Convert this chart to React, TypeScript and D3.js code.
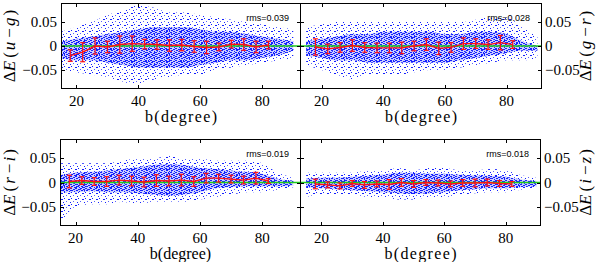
import React from "react";
import * as d3 from "d3";

// envelope grid (b in degrees) for the blue point clouds
const bGrid = [15, 20, 25, 30, 35, 40, 45, 50, 55, 60, 65, 70, 75, 80, 85, 90];
// binned means with error bars
const binB = [18, 22, 26, 30, 34, 38, 42, 46, 50, 54, 58, 62, 66, 70, 74, 78, 82];

// u-g
const ugOuterHi = [0.03, 0.04, 0.05, 0.065, 0.075, 0.085, 0.08, 0.07, 0.07, 0.065, 0.06, 0.055, 0.05, 0.045, 0.04, 0.035];
const ugOuterLo = [-0.05, -0.055, -0.06, -0.065, -0.075, -0.08, -0.07, -0.065, -0.06, -0.06, -0.05, -0.045, -0.04, -0.035, -0.03, -0.025];
const ugCoreHi = [0.01, 0.015, 0.02, 0.025, 0.03, 0.035, 0.04, 0.04, 0.04, 0.035, 0.03, 0.03, 0.025, 0.02, 0.015, 0.01];
const ugCoreLo = [-0.025, -0.03, -0.03, -0.035, -0.04, -0.045, -0.045, -0.045, -0.045, -0.04, -0.035, -0.03, -0.03, -0.025, -0.02, -0.01];
const ugMean = [-0.02, -0.013, 0.0, -0.002, 0.003, 0.005, 0.004, 0.003, 0.001, 0.002, -0.001, -0.003, -0.002, 0.004, 0.003, -0.002, 0.002];
const ugErr = [0.012, 0.02, 0.017, 0.012, 0.018, 0.016, 0.01, 0.01, 0.012, 0.012, 0.012, 0.013, 0.008, 0.008, 0.012, 0.012, 0.008];

// g-r
const grOuterHi = [0.04, 0.045, 0.05, 0.05, 0.05, 0.05, 0.05, 0.05, 0.05, 0.05, 0.05, 0.055, 0.06, 0.06, 0.04, 0.02];
const grOuterLo = [-0.04, -0.05, -0.06, -0.07, -0.06, -0.06, -0.06, -0.055, -0.05, -0.05, -0.045, -0.04, -0.035, -0.03, -0.03, -0.025];
const grCoreHi = [0.01, 0.015, 0.02, 0.025, 0.025, 0.03, 0.03, 0.03, 0.03, 0.025, 0.025, 0.03, 0.03, 0.025, 0.01, 0.0];
const grCoreLo = [-0.02, -0.025, -0.03, -0.03, -0.035, -0.035, -0.035, -0.035, -0.035, -0.035, -0.03, -0.025, -0.02, -0.015, -0.01, -0.01];
const grMean = [-0.002, -0.006, -0.003, 0.001, -0.003, -0.004, -0.004, -0.004, 0.0, 0.003, -0.005, -0.003, 0.005, 0.005, 0.003, 0.007, 0.003];
const grErr = [0.017, 0.01, 0.01, 0.012, 0.01, 0.01, 0.01, 0.012, 0.01, 0.012, 0.013, 0.01, 0.012, 0.01, 0.01, 0.015, 0.008];

// r-i
const riOuterHi = [0.04, 0.04, 0.04, 0.04, 0.045, 0.05, 0.05, 0.055, 0.05, 0.05, 0.045, 0.045, 0.045, 0.04, 0.02, 0.01];
const riOuterLo = [-0.085, -0.05, -0.045, -0.045, -0.04, -0.045, -0.04, -0.04, -0.04, -0.035, -0.03, -0.025, -0.02, -0.02, -0.015, -0.01];
const riCoreHi = [0.015, 0.02, 0.022, 0.025, 0.028, 0.032, 0.036, 0.038, 0.036, 0.03, 0.028, 0.025, 0.022, 0.018, 0.008, 0.004];
const riCoreLo = [-0.02, -0.02, -0.018, -0.02, -0.02, -0.022, -0.025, -0.028, -0.025, -0.02, -0.012, -0.01, -0.008, -0.008, -0.008, -0.006];
const riMean = [0.002, 0.004, 0.002, 0.002, 0.005, 0.003, 0.001, 0.004, 0.003, 0.005, 0.002, 0.009, 0.009, 0.007, 0.005, 0.009, 0.003];
const riErr = [0.013, 0.008, 0.008, 0.01, 0.01, 0.01, 0.01, 0.012, 0.01, 0.012, 0.01, 0.01, 0.008, 0.008, 0.008, 0.012, 0.005];

// i-z
const izOuterHi = [0.02, 0.02, 0.02, 0.02, 0.025, 0.025, 0.03, 0.025, 0.03, 0.03, 0.025, 0.025, 0.028, 0.025, 0.015, 0.01];
const izOuterLo = [-0.03, -0.025, -0.025, -0.025, -0.03, -0.03, -0.035, -0.035, -0.03, -0.03, -0.025, -0.022, -0.02, -0.02, -0.015, -0.01];
const izCoreHi = [0.008, 0.01, 0.01, 0.012, 0.014, 0.016, 0.02, 0.02, 0.018, 0.018, 0.016, 0.015, 0.014, 0.012, 0.006, 0.003];
const izCoreLo = [-0.01, -0.012, -0.014, -0.016, -0.018, -0.02, -0.022, -0.024, -0.022, -0.02, -0.016, -0.014, -0.012, -0.012, -0.01, -0.008];
const izMean = [-0.003, -0.005, -0.007, -0.002, -0.005, -0.003, -0.004, 0.0, -0.003, 0.0, -0.001, -0.003, -0.001, -0.001, 0.0, -0.002, -0.003];
const izErr = [0.01, 0.006, 0.006, 0.006, 0.007, 0.006, 0.01, 0.008, 0.007, 0.006, 0.006, 0.006, 0.007, 0.008, 0.007, 0.006, 0.005];

const yTicks = [-0.05, 0, 0.05];
const xTicks = [20, 40, 60, 80];

const BLUE = "#1420ff";
const SERIF = "Liberation Serif";
const SANS = "Liberation Sans";

type PanelProps = {
  id: string;
  x0: number; x1: number; y0: number; y1: number;
  xDomain: [number, number];
  side: "left" | "right";
  outerHi: number[]; outerLo: number[]; coreHi: number[]; coreLo: number[];
  mean: number[]; err: number[];
  c1: string; c2: string;
  rms: string;
  spaced: boolean;
};

function fmt(v: number) {
  if (v === 0) return "0";
  return v < 0 ? "\u2212" + Math.abs(v).toFixed(2) : v.toFixed(2);
}

function Panel(p: PanelProps) {
  const x = d3.scaleLinear().domain(p.xDomain).range([p.x0, p.x1]);
  const y = d3.scaleLinear().domain([-0.09, 0.09]).range([p.y1, p.y0]);
  const outer = d3.area<number>()
    .x((_, i) => x(bGrid[i]))
    .y0((_, i) => y(p.outerLo[i]))
    .y1((d) => y(d))
    .curve(d3.curveMonotoneX);
  const core = d3.area<number>()
    .x((_, i) => x(bGrid[i]))
    .y0((_, i) => y(p.coreLo[i]))
    .y1((d) => y(d))
    .curve(d3.curveMonotoneX);
  const meanLine = d3.line<number>()
    .x((_, i) => x(binB[i]))
    .y((d) => y(d));
  const tk = 4;
  const labelX = p.side === "left" ? 15 : 591;
  const midY = (p.y0 + p.y1) / 2;
  return (
    <g>
      <clipPath id={p.id}>
        <rect x={p.x0} y={p.y0} width={p.x1 - p.x0} height={p.y1 - p.y0} />
      </clipPath>
      <g clipPath={`url(#${p.id})`}>
        <path d={outer(p.outerHi) || ""} fill="url(#sparse)" />
        <path d={core(p.coreHi) || ""} fill="url(#dense)" />
        <line x1={p.x0} x2={p.x1} y1={y(0)} y2={y(0)} stroke="#1ec81e" strokeWidth={1.5} />
        <path d={meanLine(p.mean) || ""} fill="none" stroke="#ff1010" strokeWidth={1.4} />
        {p.mean.map((m, i) => {
          const cx = x(binB[i]);
          const top = y(m + p.err[i]);
          const bot = y(m - p.err[i]);
          return (
            <g key={i} stroke="#ff1010" strokeWidth={1.2}>
              <line x1={cx} x2={cx} y1={top} y2={bot} />
              <line x1={cx - 2.5} x2={cx + 2.5} y1={top} y2={top} />
              <line x1={cx - 2.5} x2={cx + 2.5} y1={bot} y2={bot} />
            </g>
          );
        })}
      </g>
      <rect x={p.x0 + 0.5} y={p.y0 + 0.5} width={p.x1 - p.x0 - 1} height={p.y1 - p.y0 - 1}
        fill="none" stroke="#000" strokeWidth={1} />
      {yTicks.map((t) => (
        <g key={t} stroke="#000" strokeWidth={1}>
          <line x1={p.x0} x2={p.x0 + tk} y1={Math.round(y(t)) + 0.5} y2={Math.round(y(t)) + 0.5} />
          <line x1={p.x1 - tk} x2={p.x1} y1={Math.round(y(t)) + 0.5} y2={Math.round(y(t)) + 0.5} />
        </g>
      ))}
      {xTicks.map((t) => (
        <g key={t} stroke="#000" strokeWidth={1}>
          <line x1={Math.round(x(t)) + 0.5} x2={Math.round(x(t)) + 0.5} y1={p.y1} y2={p.y1 - tk} />
          <line x1={Math.round(x(t)) + 0.5} x2={Math.round(x(t)) + 0.5} y1={p.y0} y2={p.y0 + tk} />
        </g>
      ))}
      {yTicks.map((t) => (
        <text key={t} x={p.side === "left" ? p.x0 - 4 : p.x1 + 3} y={y(t) + 5}
          textAnchor={p.side === "left" ? "end" : "start"} fontSize={15} fontFamily={SERIF}>
          {fmt(t)}
        </text>
      ))}
      {xTicks.map((t) => (
        <text key={t} x={x(t)} y={p.y1 + 17} textAnchor="middle" fontSize={15} fontFamily={SERIF}>
          {t}
        </text>
      ))}
      {p.spaced ? (
        <text x={(p.x0 + p.x1) / 2 - 36} y={p.y1 + 33} fontSize={16} fontFamily={SERIF}
          textLength={72} lengthAdjust="spacing">
          b(degree)
        </text>
      ) : (
        <text x={(p.x0 + p.x1) / 2} y={p.y1 + 33} textAnchor="middle" fontSize={16}
          fontFamily={SERIF}>
          b(degree)
        </text>
      )}
      <text transform={`translate(${labelX},${midY}) rotate(-90)`} textAnchor="middle"
        fontSize={17} fontFamily={SERIF}>
        <tspan>Δ</tspan>
        <tspan fontStyle="italic">E</tspan>
        <tspan dx={3}>(</tspan>
        <tspan fontStyle="italic" dx={2}>{p.c1}</tspan>
        <tspan dx={4}>−</tspan>
        <tspan fontStyle="italic" dx={2}>{p.c2}</tspan>
        <tspan dx={2}>)</tspan>
      </text>
      <text x={p.x1 - 12} y={p.y0 + 18} textAnchor="end" fontSize={9} fontFamily={SANS}>
        {p.rms}
      </text>
    </g>
  );
}

export default function App() {
  return (
    <svg width={600} height={262} style={{ position: "absolute", left: 0, top: 0 }}>
      <defs>
        <pattern id="sparse" patternUnits="userSpaceOnUse" width={7} height={6}>
          <rect x={1} y={0} width={1} height={1} fill={BLUE} />
          <rect x={5} y={1} width={2} height={1} fill={BLUE} />
          <rect x={3} y={3} width={1} height={1} fill={BLUE} opacity={0.7} />
          <rect x={0} y={4} width={1} height={1} fill={BLUE} />
        </pattern>
        <pattern id="dense" patternUnits="userSpaceOnUse" width={5} height={4}>
          <rect x={0} y={0} width={5} height={4} fill={BLUE} opacity={0.22} />
          <rect x={0} y={0} width={2} height={1} fill={BLUE} />
          <rect x={3} y={1} width={2} height={1} fill={BLUE} />
          <rect x={1} y={2} width={2} height={1} fill={BLUE} />
          <rect x={4} y={3} width={1} height={1} fill={BLUE} />
        </pattern>
      </defs>
      <rect x={0} y={0} width={600} height={262} fill="#fff" />
      <Panel id="p1" x0={61} x1={301} y0={3} y1={89} xDomain={[15, 92.5]} side="left"
        outerHi={ugOuterHi} outerLo={ugOuterLo} coreHi={ugCoreHi} coreLo={ugCoreLo}
        mean={ugMean} err={ugErr} c1="u" c2="g" rms="rms=0.039" spaced={true} />
      <Panel id="p2" x0={300} x1={542} y0={3} y1={89} xDomain={[13, 91.5]} side="right"
        outerHi={grOuterHi} outerLo={grOuterLo} coreHi={grCoreHi} coreLo={grCoreLo}
        mean={grMean} err={grErr} c1="g" c2="r" rms="rms=0.028" spaced={true} />
      <Panel id="p3" x0={60} x1={301} y0={139} y1={226} xDomain={[15, 92.5]} side="left"
        outerHi={riOuterHi} outerLo={riOuterLo} coreHi={riCoreHi} coreLo={riCoreLo}
        mean={riMean} err={riErr} c1="r" c2="i" rms="rms=0.019" spaced={false} />
      <Panel id="p4" x0={300} x1={541} y0={139} y1={226} xDomain={[13, 91.5]} side="right"
        outerHi={izOuterHi} outerLo={izOuterLo} coreHi={izCoreHi} coreLo={izCoreLo}
        mean={izMean} err={izErr} c1="i" c2="z" rms="rms=0.018" spaced={true} />
    </svg>
  );
}
